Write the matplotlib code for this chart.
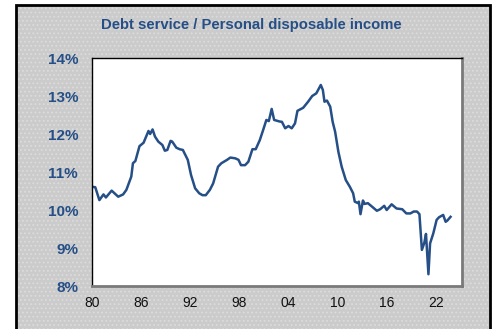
import matplotlib
matplotlib.use("Agg")
import matplotlib.pyplot as plt
from matplotlib.patches import Rectangle

# debt service as % of personal disposable income
years = [
    1980.0, 1980.4, 1980.9, 1981.4, 1981.7, 1982.4, 1983.2, 1983.8, 1984.2, 1984.8,
    1985.0, 1985.3, 1985.8, 1986.3, 1986.9, 1987.1, 1987.4, 1987.7, 1988.1, 1988.6,
    1988.9, 1989.2, 1989.6, 1989.8, 1990.3, 1990.7, 1991.1, 1991.7, 1992.1, 1992.6,
    1993.1, 1993.5, 1993.9, 1994.4, 1994.8, 1995.4, 1995.8, 1996.5, 1996.9, 1997.5,
    1997.9, 1998.2, 1998.7, 1999.1, 1999.6, 2000.0, 2000.5, 2000.9, 2001.3, 2001.6,
    2001.95, 2002.25, 2002.9, 2003.2, 2003.6, 2004.0, 2004.4, 2004.8, 2005.1, 2005.8,
    2006.4, 2006.9, 2007.4, 2007.95, 2008.2, 2008.4, 2008.7, 2009.1, 2009.4, 2009.7,
    2010.1, 2010.5, 2011.0, 2011.5, 2011.9, 2012.1, 2012.5, 2012.6, 2012.8, 2013.1,
    2013.3, 2013.7, 2014.2, 2014.8, 2015.2, 2015.7, 2016.0, 2016.6, 2017.2, 2017.9,
    2018.4, 2018.9, 2019.3, 2019.7, 2020.0, 2020.3, 2020.6, 2020.8, 2021.1, 2021.3,
    2021.7, 2022.1, 2022.4, 2022.9, 2023.2, 2023.4, 2023.8,
]
ratio = [
    10.61, 10.60, 10.26, 10.41, 10.33, 10.51, 10.35, 10.41, 10.53, 10.88,
    11.23, 11.29, 11.68, 11.77, 12.08, 12.00, 12.12, 11.93, 11.80, 11.71,
    11.56, 11.58, 11.82, 11.80, 11.64, 11.60, 11.58, 11.32, 10.92, 10.57,
    10.44, 10.39, 10.39, 10.53, 10.70, 11.14, 11.23, 11.32, 11.38, 11.36,
    11.32, 11.18, 11.18, 11.27, 11.60, 11.60, 11.84, 12.10, 12.37, 12.34,
    12.66, 12.37, 12.33, 12.32, 12.15, 12.21, 12.15, 12.28, 12.61, 12.69,
    12.85, 13.00, 13.07, 13.29, 13.16, 12.85, 12.88, 12.72, 12.32, 12.06,
    11.53, 11.14, 10.79, 10.61, 10.44, 10.22, 10.18, 10.22, 9.89, 10.25,
    10.16, 10.18, 10.09, 9.98, 10.02, 10.11, 10.00, 10.15, 10.04, 10.02,
    9.91, 9.91, 9.96, 9.96, 9.89, 8.95, 9.14, 9.37, 8.31, 9.12,
    9.39, 9.74, 9.81, 9.87, 9.69, 9.72, 9.82,
]
x_ticks = [1980, 1986, 1992, 1998, 2004, 2010, 2016, 2022]
x_labels = ["80", "86", "92", "98", "04", "10", "16", "22"]
y_ticks = [8, 9, 10, 11, 12, 13, 14]
y_labels = ["8%", "9%", "10%", "11%", "12%", "13%", "14%"]

BLUE = "#254f86"
plt.rcParams["font.family"] = ["Liberation Sans", "DejaVu Sans"]
plt.rcParams["hatch.linewidth"] = 0.8

fig = plt.figure(figsize=(4.95, 3.29), dpi=100)
fig.patch.set_facecolor("white")

# grey textured panel with black frame, behind the axes
panel_xy = (16 / 495, -0.05)
panel_w = (490 - 16) / 495
panel_h = 1.05 - 5 / 329
fig.patches.append(Rectangle(panel_xy, panel_w, panel_h, transform=fig.transFigure,
                             facecolor="#cbcbcb", edgecolor="none", zorder=-3))
fig.patches.append(Rectangle(panel_xy, panel_w, panel_h, transform=fig.transFigure,
                             facecolor="none", edgecolor="#dcdcdc", linewidth=0,
                             hatch="....", zorder=-2))
fig.patches.append(Rectangle(panel_xy, panel_w, panel_h, transform=fig.transFigure,
                             facecolor="none", edgecolor="black", linewidth=2,
                             zorder=-1))

ax = fig.add_axes([92 / 495, 1 - 286 / 329, (462 - 92) / 495, (286 - 58) / 329])
ax.set_facecolor("white")
ax.plot(years, ratio, color=BLUE, linewidth=1.8)

ax.set_xlim(1980, 2025.2)
ax.set_ylim(8, 14)
ax.set_xticks(x_ticks)
ax.set_xticklabels(x_labels, fontsize=10, color="#111111")
ax.set_yticks(y_ticks)
ax.set_yticklabels(y_labels, fontsize=11, color=BLUE, fontweight="bold")
ax.tick_params(axis="both", length=0)
ax.tick_params(axis="y", pad=10)
ax.tick_params(axis="x", pad=7)

for side in ("left", "top"):
    ax.spines[side].set_color("black")
    ax.spines[side].set_linewidth(1.0)
for side in ("right", "bottom"):
    ax.spines[side].set_color("#7a7a7a")
    ax.spines[side].set_linewidth(2.0)

fig.text(251 / 495, 1 - 25 / 329, "Debt service / Personal disposable income",
         ha="center", va="center", fontsize=10.7, fontweight="bold", color=BLUE)

fig.savefig("out.png", dpi=100)
